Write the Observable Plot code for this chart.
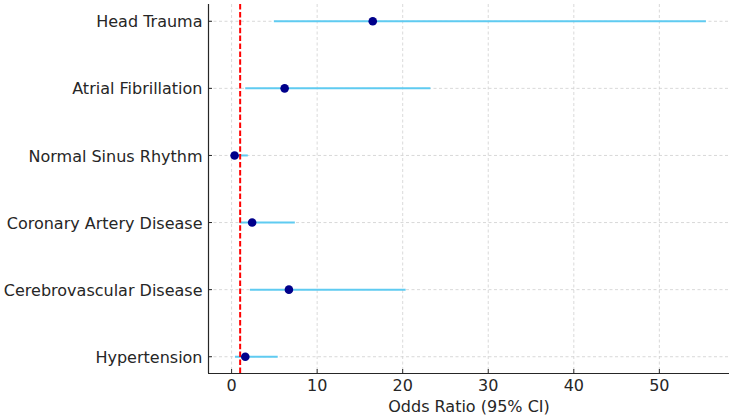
<!DOCTYPE html>
<html>
<head>
<meta charset="utf-8">
<script src="https://cdn.jsdelivr.net/npm/d3@7"></script>
<script src="https://cdn.jsdelivr.net/npm/@observablehq/plot@0.6"></script>
<style>
  html, body { margin: 0; padding: 0; background: #fff; }
  #chart { width: 735px; height: 419px; }
  svg { font-family: "DejaVu Sans", sans-serif; }
</style>
</head>
<body>
<div id="chart"></div>
<script>
// Bottom to top order (as drawn)
const categories = ["Hypertension", "Cerebrovascular Disease", "Coronary Artery Disease", "Normal Sinus Rhythm", "Atrial Fibrillation", "Head Trauma"];
const oddsRatio = [1.6, 6.7, 2.4, 0.35, 6.2, 16.5];
const ciLower = [0.45, 2.2, 1.0, 0.05, 1.65, 5.0];
const ciUpper = [5.45, 20.4, 7.45, 1.95, 23.3, 55.5];
const xTicks = [0, 10, 20, 30, 40, 50];
const referenceLine = [1];
const xLabel = "Odds Ratio (95% CI)";

const rows = categories.map((c, i) => ({ i, name: c, or: oddsRatio[i], lo: ciLower[i], hi: ciUpper[i] }));
const xDomain = [-2.7, 58.2];
const yDomain = [-0.25, categories.length - 0.75];

const chart = Plot.plot({
  width: 735,
  height: 419,
  marginLeft: 208,
  marginRight: 6,
  marginTop: 4,
  marginBottom: 46,
  style: { fontFamily: "DejaVu Sans, sans-serif", fontSize: "16px", color: "#262626", background: "#fff" },
  x: { domain: xDomain, ticks: xTicks },
  y: { domain: yDomain, ticks: d3.range(categories.length) },
  marks: [
    // grid
    Plot.ruleX(xTicks, { stroke: "#cfcfcf", strokeWidth: 0.8, strokeDasharray: "3,2.5" }),
    Plot.ruleY(rows, { y: "i", stroke: "#cfcfcf", strokeWidth: 0.8, strokeDasharray: "3,2.5" }),
    // error bars
    Plot.ruleY(rows, { y: "i", x1: "lo", x2: "hi", stroke: "#5fcbf1", strokeWidth: 2 }),
    // reference line
    Plot.ruleX(referenceLine, { stroke: "#ff0000", strokeWidth: 2, strokeDasharray: "5.5,2.4" }),
    // points
    Plot.dot(rows, { x: "or", y: "i", r: 4.3, fill: "#00008b", stroke: "none" }),
    // spines
    Plot.ruleX([xDomain[0]], { stroke: "#262626", strokeWidth: 1.2 }),
    Plot.ruleY([yDomain[0]], { stroke: "#262626", strokeWidth: 1.2 }),
    // axes: labels
    Plot.axisY({ ticks: d3.range(categories.length), tickFormat: i => categories[i], tickSize: 0, tickPadding: 6, dy: 1, label: null, fontSize: 16 }),
    Plot.axisY({ ticks: d3.range(categories.length), text: null, tickSize: 4, dx: 4, stroke: "#262626", label: null }),
    Plot.axisX({ ticks: xTicks, tickSize: 0, tickPadding: 6, label: null, fontSize: 16 }),
    Plot.axisX({ ticks: xTicks, text: null, tickSize: 4, dy: -4, stroke: "#262626", label: null }),
    Plot.text([xLabel], { frameAnchor: "bottom", dy: 38, fontSize: 16, fill: "#262626" })
  ]
});
document.getElementById("chart").appendChild(chart);
</script>
</body>
</html>
